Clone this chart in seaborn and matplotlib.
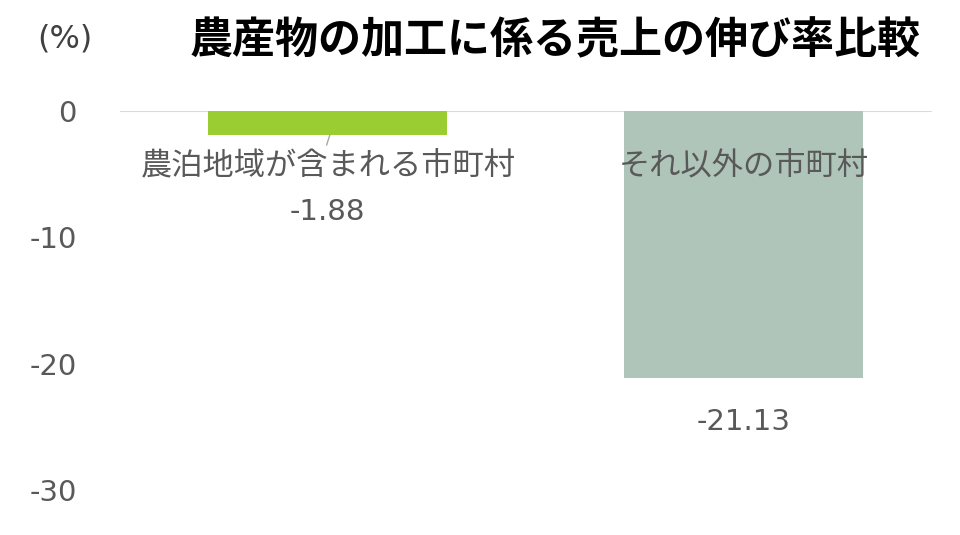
import matplotlib
matplotlib.use("Agg")
import matplotlib.pyplot as plt
import seaborn as sns
import pandas as pd

categories = ["農泊地域が含まれる市町村", "それ以外の市町村"]
values = [-1.88, -21.13]
bar_colors = ["#9ACD32", "#AFC5B9"]
yticks = [0, -10, -20, -30]

sns.set_theme(style="white")
plt.rcParams["font.family"] = ["Noto Sans CJK JP", "DejaVu Sans"]

df = pd.DataFrame({"category": categories, "value": values})

fig = plt.figure(figsize=(9.6, 5.35), dpi=100)
ax = fig.add_axes([0.125, 0.084, 0.866, 0.7085])

sns.barplot(data=df, x="category", y="value", hue="category",
            palette=bar_colors, width=0.575, saturation=1, linewidth=0,
            legend=False, ax=ax)

gray = "#595959"
num_font = ["DejaVu Sans"]

ax.set_ylim(-30, 0)
ax.set_xlim(-0.5, 1.5)
ax.set_yticks(yticks)
ax.set_yticklabels([str(t) for t in yticks], fontsize=21, color=gray, family=num_font)
for lbl in ax.get_yticklabels():
    lbl.set_va("center_baseline")
ax.tick_params(axis="y", length=0, pad=31)
ax.set_xticks([])
ax.set_xlabel("")
ax.set_ylabel("")
for s in ax.spines.values():
    s.set_visible(False)
ax.axhline(0, xmin=0, xmax=0.975, color="#D9D9D9", lw=1.5, zorder=0)

for i, cat in enumerate(categories):
    ax.text(i, -4.3, cat, ha="center", va="center", fontsize=22.5, color=gray)

# data labels
ax.text(0, -8.0, f"{values[0]:.2f}", ha="center", va="center", fontsize=21,
        color=gray, family=num_font)
ax.plot([0.005, -0.003], [values[0], -2.7], color="#A6A6A6", lw=1)
ax.text(1, values[1] - 3.5, f"{values[1]:.2f}", ha="center", va="center",
        fontsize=21, color=gray, family=num_font)

fig.text(0.068, 0.927, "(%)", ha="center", va="center", fontsize=23, color="#404040",
         family=num_font)
fig.text(0.578, 0.925, "農産物の加工に係る売上の伸び率比較", ha="center", va="center",
         fontsize=31, fontweight="bold", color="black")

fig.savefig("out.png", dpi=100)
